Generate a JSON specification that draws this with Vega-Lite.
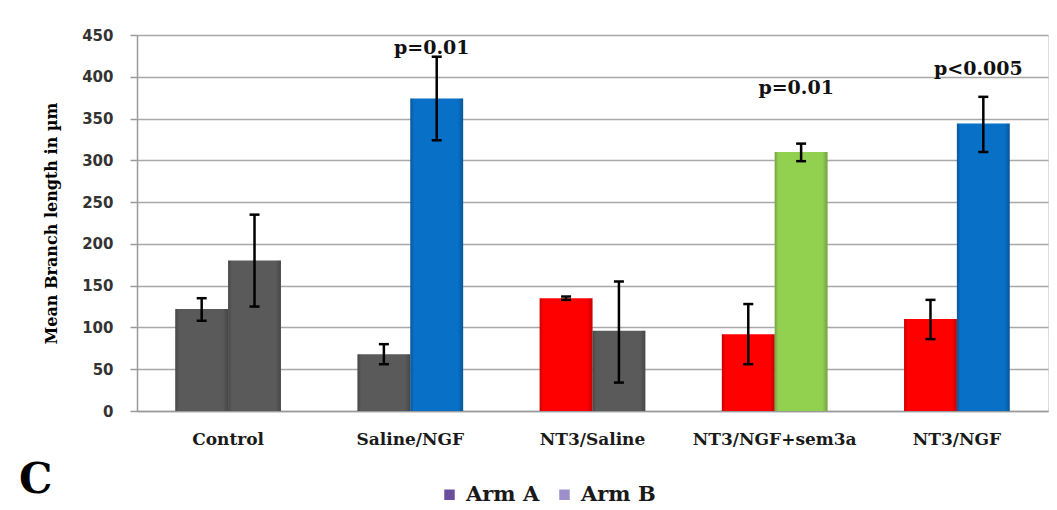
{
  "$schema": "https://vega.github.io/schema/vega-lite/v6.json",
  "width": 911,
  "height": 376,
  "autosize": {"type": "none"},
  "padding": {"left": 137, "top": 35, "right": 9, "bottom": 99},
  "background": "white",
  "title": {
    "text": "C",
    "orient": "bottom",
    "anchor": "start",
    "frame": "group",
    "font": "DejaVu Serif",
    "fontSize": 42,
    "fontWeight": "bold",
    "color": "black",
    "baseline": "top",
    "offset": 0,
    "dx": -118,
    "dy": -45
  },
  "datasets": {
    "lengths": [
      {"condition": "Control", "arm": "Arm A", "agent": "Control", "mean": 122, "lo": 108, "hi": 135},
      {"condition": "Control", "arm": "Arm B", "agent": "Control", "mean": 180, "lo": 125, "hi": 235},
      {"condition": "Saline/NGF", "arm": "Arm A", "agent": "Saline", "mean": 68, "lo": 56, "hi": 80},
      {"condition": "Saline/NGF", "arm": "Arm B", "agent": "NGF", "mean": 374, "lo": 324, "hi": 424},
      {"condition": "NT3/Saline", "arm": "Arm A", "agent": "NT3", "mean": 135, "lo": 133, "hi": 137},
      {"condition": "NT3/Saline", "arm": "Arm B", "agent": "Saline", "mean": 96, "lo": 34, "hi": 155},
      {"condition": "NT3/NGF+sem3a", "arm": "Arm A", "agent": "NT3", "mean": 92, "lo": 56, "hi": 128},
      {"condition": "NT3/NGF+sem3a", "arm": "Arm B", "agent": "NGF+sem3a", "mean": 310, "lo": 299, "hi": 320},
      {"condition": "NT3/NGF", "arm": "Arm A", "agent": "NT3", "mean": 110, "lo": 86, "hi": 133},
      {"condition": "NT3/NGF", "arm": "Arm B", "agent": "NGF", "mean": 344, "lo": 310, "hi": 376}
    ],
    "notes": [
      {"condition": "Saline/NGF", "arm": "Arm B", "label": "p=0.01", "at": 434},
      {"condition": "NT3/NGF+sem3a", "arm": "Arm B", "label": "p=0.01", "at": 387},
      {"condition": "NT3/NGF", "arm": "Arm B", "label": "p<0.005", "at": 409}
    ]
  },
  "encoding": {
    "x": {
      "field": "condition",
      "type": "nominal",
      "sort": ["Control", "Saline/NGF", "NT3/Saline", "NT3/NGF+sem3a", "NT3/NGF"],
      "scale": {"paddingInner": 0.42, "paddingOuter": 0.21},
      "axis": {
        "title": null,
        "labelAngle": 0,
        "labelFont": "DejaVu Serif",
        "labelFontWeight": "bold",
        "labelFontSize": 17,
        "labelColor": "#1a1a1a",
        "labelPadding": 20,
        "ticks": false,
        "grid": false,
        "domainColor": "#9a9a9a",
        "domainWidth": 1.5
      }
    },
    "xOffset": {
      "field": "arm",
      "type": "nominal",
      "sort": ["Arm A", "Arm B"],
      "scale": {"paddingInner": 0, "paddingOuter": 0}
    }
  },
  "layer": [
    {
      "data": {"name": "lengths"},
      "mark": {"type": "bar"},
      "encoding": {
        "y": {
          "field": "mean",
          "type": "quantitative",
          "scale": {"domain": [0, 450], "nice": false},
          "axis": {
            "values": [0, 50, 100, 150, 200, 250, 300, 350, 400, 450],
            "title": "Mean Branch length in µm",
            "titleFont": "DejaVu Serif",
            "titleFontWeight": "bold",
            "titleFontSize": 16,
            "titleColor": "black",
            "titlePadding": 22,
            "labelFont": "DejaVu Sans",
            "labelFontWeight": "bold",
            "labelFontSize": 15,
            "labelColor": "#333333",
            "labelPadding": 17,
            "tickSize": 7,
            "tickColor": "#9a9a9a",
            "tickWidth": 1.5,
            "domainColor": "#9a9a9a",
            "domainWidth": 1.5,
            "grid": true,
            "gridColor": "#a8a8a8",
            "gridWidth": 1.5
          }
        },
        "color": {
          "field": "agent",
          "type": "nominal",
          "scale": {
            "domain": ["Control", "Saline", "NT3", "NGF", "NGF+sem3a"],
            "range": ["#5a5a5a", "#5a5a5a", "#ff0000", "#0870c6", "#92d050"]
          },
          "legend": null
        }
      }
    },
    {
      "data": {"name": "lengths"},
      "mark": {
        "type": "bar",
        "fill": {
          "gradient": "linear",
          "x1": 0, "y1": 0, "x2": 1, "y2": 0,
          "stops": [
            {"offset": 0, "color": "rgba(0,0,0,0.22)"},
            {"offset": 0.07, "color": "rgba(0,0,0,0)"},
            {"offset": 0.9, "color": "rgba(0,0,0,0)"},
            {"offset": 1, "color": "rgba(0,0,0,0.22)"}
          ]
        }
      },
      "encoding": {
        "y": {"field": "mean", "type": "quantitative"}
      }
    },
    {
      "data": {"name": "lengths"},
      "mark": {"type": "rule", "color": "black", "strokeWidth": 2.5},
      "encoding": {
        "y": {"field": "lo", "type": "quantitative"},
        "y2": {"field": "hi"}
      }
    },
    {
      "data": {"name": "lengths"},
      "mark": {"type": "tick", "color": "black", "thickness": 2.5, "size": 10, "opacity": 1},
      "encoding": {
        "y": {"field": "hi", "type": "quantitative"}
      }
    },
    {
      "data": {"name": "lengths"},
      "mark": {"type": "tick", "color": "black", "thickness": 2.5, "size": 10, "opacity": 1},
      "encoding": {
        "y": {"field": "lo", "type": "quantitative"}
      }
    },
    {
      "data": {"name": "lengths"},
      "mark": {"type": "point", "shape": "square", "filled": true, "opacity": 0},
      "encoding": {
        "y": {"field": "mean", "type": "quantitative"},
        "fill": {
          "field": "arm",
          "type": "nominal",
          "scale": {"domain": ["Arm A", "Arm B"], "range": ["#6b4f9e", "#9d8fc9"]},
          "legend": {
            "orient": "none",
            "legendX": 302,
            "legendY": 449,
            "direction": "horizontal",
            "title": null,
            "padding": 0,
            "symbolType": "square",
            "symbolSize": 110,
            "symbolOpacity": 1,
            "symbolStrokeWidth": 0,
            "labelFont": "DejaVu Serif",
            "labelFontWeight": "bold",
            "labelFontSize": 21,
            "labelColor": "#1a1a1a",
            "labelOffset": 6,
            "columnPadding": 14
          }
        }
      }
    },
    {
      "data": {"name": "notes"},
      "mark": {
        "type": "text",
        "font": "DejaVu Serif",
        "fontWeight": "bold",
        "fontSize": 19,
        "color": "#111111",
        "baseline": "middle",
        "align": "center",
        "dx": -5
      },
      "encoding": {
        "y": {"field": "at", "type": "quantitative"},
        "text": {"field": "label", "type": "nominal"}
      }
    }
  ]
}
